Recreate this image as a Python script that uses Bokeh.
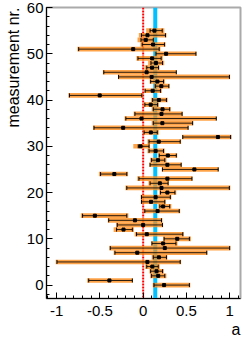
from math import pi
from bokeh.plotting import figure
from bokeh.models import Range1d, Span, Title, SingleIntervalTicker, NumeralTickFormatter
from bokeh.embed import file_html
from bokeh.resources import INLINE

# measurement number
measurement = list(range(56))

# central values
center = [0.242, -0.39, 0.174, 0.155, 0.106, 0.049, 0.182, -0.068, 0.25, 0.231,
          0.394, 0.042, -0.227, 0.0, -0.095, -0.558, 0.167, 0.231, 0.091, 0.144,
          0.28, 0.212, 0.193, 0.28, -0.333, 0.592, 0.28, 0.172, 0.285, 0.144,
          -0.03, 0.18, 0.864, 0.089, -0.231, 0.222, -0.019, 0.212, 0.224, 0.087,
          0.182, -0.502, 0.11, 0.21, 0.165, 0.098, 0.04, 0.102, 0.148, 0.104,
          0.265, -0.115, 0.115, 0.03, 0.05, 0.13]

# black error bars (low / high edges)
stat_lo = [0.125, -0.629, 0.098, 0.087, 0.042, -0.996, 0.117, -0.326, -0.38, 0.102,
           0.242, -0.076, -0.307, -0.299, -0.398, -0.70, 0.019, 0.193, -0.019, -0.019,
           0.201, -0.189, 0.08, -0.049, -0.492, 0.223, 0.08, 0.098, 0.186, 0.068,
           -0.057, 0.068, 0.458, 0.011, -0.568, 0.117, -0.2, -0.095, 0.117, 0.02,
           0.11, -0.852, 0.023, 0.14, 0.087, -0.284, -0.455, 0.042, 0.09, -0.06,
           0.148, -0.745, -0.011, -0.025, -0.02, 0.08]
stat_hi = [0.534, -0.125, 0.25, 0.224, 0.174, 0.428, 0.269, 0.735, 1.0, 0.379,
           0.534, 0.458, -0.125, 0.223, 0.212, -0.189, 0.417, 0.307, 0.25, 0.314,
           0.367, 0.996, 0.288, 0.564, -0.189, 0.867, 0.439, 0.25, 0.383, 0.235,
           0.068, 0.428, 1.011, 0.163, 0.519, 0.572, 0.845, 0.45, 0.307, 0.167,
           0.269, -0.015, 0.2, 0.297, 0.235, 0.997, 0.383, 0.178, 0.224, 0.208,
           0.61, 0.185, 0.246, 0.117, 0.258, 0.22]

# orange bands (low / high edges)
tot_lo = [0.11, -0.648, 0.08, 0.072, 0.023, -1.011, 0.098, -0.341, -0.39, 0.091,
          0.231, -0.098, -0.341, -0.314, -0.409, -0.72, 0.004, 0.174, -0.028, -0.03,
          0.186, -0.205, 0.061, -0.068, -0.511, 0.216, 0.072, 0.08, 0.174, 0.049,
          -0.114, 0.049, 0.451, 0.0, -0.58, 0.098, -0.216, -0.11, 0.098, 0.004,
          0.091, -0.864, 0.011, 0.128, 0.074, -0.29, -0.466, 0.017, 0.058, -0.078,
          0.137, -0.76, -0.032, -0.065, -0.05, 0.035]
tot_hi = [0.545, -0.117, 0.269, 0.239, 0.193, 0.439, 0.28, 0.742, 1.008, 0.398,
          0.553, 0.47, -0.106, 0.231, 0.223, -0.17, 0.428, 0.326, 0.261, 0.326,
          0.383, 1.008, 0.299, 0.57, -0.174, 0.873, 0.448, 0.27, 0.394, 0.25,
          0.08, 0.439, 1.02, 0.182, 0.525, 0.578, 0.849, 0.458, 0.318, 0.182,
          0.284, -0.005, 0.216, 0.305, 0.252, 1.005, 0.388, 0.188, 0.244, 0.228,
          0.617, 0.2, 0.26, 0.13, 0.27, 0.245]

combined = 0.14
reference = 0.0

FONT = "Liberation Sans"

p = figure(width=250, height=339,
           x_range=Range1d(-1.117, 1.125), y_range=Range1d(-2.9, 60.0),
           output_backend="svg", toolbar_location=None,
           min_border_left=43, min_border_right=10, min_border_top=7, min_border_bottom=41)
p.grid.visible = False
p.outline_line_color = "#aaaaaa"
p.outline_line_width = 2
p.background_fill_color = "white"
p.border_fill_color = "white"

for ax in (p.xaxis[0], p.yaxis[0]):
    ax.major_tick_in = 6
    ax.major_tick_out = 0
    ax.minor_tick_in = 3
    ax.minor_tick_out = 0
    ax.axis_line_color = "black"
    ax.major_tick_line_color = "black"
    ax.minor_tick_line_color = "black"
    ax.major_label_text_font = FONT
    ax.major_label_text_font_size = "15px"
    ax.major_label_text_color = "black"

p.xaxis.ticker = SingleIntervalTicker(interval=0.5, num_minor_ticks=5)
p.xaxis.formatter = NumeralTickFormatter(format="0.[0]")
p.xaxis.major_label_standoff = 7
p.yaxis.ticker = SingleIntervalTicker(interval=10, num_minor_ticks=5)
p.yaxis.major_label_standoff = 3

p.add_layout(Span(location=combined, dimension="height", line_color="#00c0ff",
                  line_width=4, level="underlay"))
p.add_layout(Span(location=reference, dimension="height", line_color="#ff0000",
                  line_width=2, line_dash="2 1", level="underlay"))

p.hbar(y=measurement, left=tot_lo, right=tot_hi, height=1.0,
       fill_color="#ff8c1a", fill_alpha=0.8, line_color=None)
p.segment(x0=stat_lo, y0=measurement, x1=stat_hi, y1=measurement,
          line_color="black", line_width=1, line_alpha=0.85)
p.scatter(x=stat_lo, y=measurement, marker="dash", angle=pi / 2, size=4,
          line_color="black", line_width=1)
p.scatter(x=stat_hi, y=measurement, marker="dash", angle=pi / 2, size=4,
          line_color="black", line_width=1)
p.scatter(x=center, y=measurement, marker="square", size=3,
          fill_color="black", line_color="black")

p.add_layout(Title(text="measurement nr.", align="right", standoff=4,
                   text_font=FONT, text_font_size="16px", text_font_style="normal",
                   text_color="black"), "left")
p.add_layout(Title(text="a", align="right", standoff=0,
                   text_font=FONT, text_font_size="16px", text_font_style="normal",
                   text_color="black"), "below")

open("out.html", "w").write(file_html(p, INLINE))
